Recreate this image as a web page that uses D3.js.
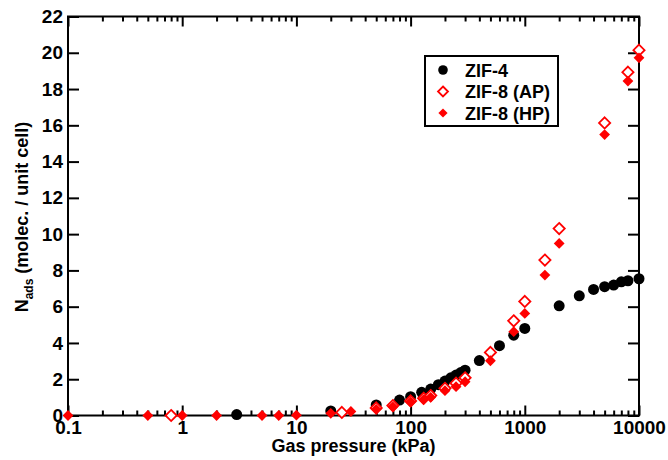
<!DOCTYPE html>
<html><head><meta charset="utf-8">
<script src="https://cdn.jsdelivr.net/npm/d3@7"></script>
<style>
html,body{margin:0;padding:0;background:#fff;}
text{font-family:"Liberation Sans",Arial,sans-serif;font-weight:bold;}
</style></head>
<body>
<svg id="c" width="668" height="460"></svg>
<script>
// ---- data ----
const zif4P = [3, 20, 50, 80, 100, 125, 150, 175, 200, 225, 250, 275, 300, 400, 600, 800, 1000, 2000, 3000, 4000, 5000, 6000, 7000, 8000, 10000];
const zif4N = [0.05, 0.25, 0.58, 0.85, 1.04, 1.28, 1.46, 1.7, 1.9, 2.08, 2.23, 2.37, 2.5, 3.03, 3.85, 4.43, 4.8, 6.05, 6.6, 6.95, 7.1, 7.19, 7.37, 7.43, 7.54];
const apP = [0.8, 25, 50, 70, 100, 130, 150, 200, 250, 300, 500, 800, 1000, 1500, 2000, 5000, 8000, 10000];
const apN = [0.0, 0.17, 0.42, 0.55, 0.8, 0.95, 1.1, 1.5, 1.78, 2.08, 3.48, 5.22, 6.29, 8.57, 10.31, 16.13, 18.93, 20.14];
const hpP = [0.1, 0.5, 1, 2, 5, 7, 10, 20, 30, 50, 70, 100, 130, 150, 200, 250, 300, 500, 800, 1000, 1500, 2000, 5000, 8000, 10000];
const hpN = [0, 0, 0, 0, 0, 0, 0.02, 0.12, 0.22, 0.34, 0.48, 0.74, 0.88, 1.0, 1.37, 1.59, 1.86, 3.02, 4.62, 5.63, 7.74, 9.49, 15.49, 18.44, 19.72];
const xMajor = [0.1, 1, 10, 100, 1000, 10000];
const xTickLabels = ["0.1", "1", "10", "100", "1000", "10000"];
const yTicks = [0, 2, 4, 6, 8, 10, 12, 14, 16, 18, 20, 22];
const seriesNames = ["ZIF-4", "ZIF-8 (AP)", "ZIF-8 (HP)"];

// ---- layout ----
const svg = d3.select("#c");
const L = 68, R = 639, T = 16.5, B = 415.5;
const x = d3.scaleLog().domain([0.1, 10000]).range([L, R]);
const y = d3.scaleLinear().domain([0, 22]).range([B, T]);

const xMinor = [];
for (let e = -1; e < 4; e++) for (let k = 2; k <= 9; k++) xMinor.push(k * Math.pow(10, e));

function styleAxis(g) {
  g.select(".domain").remove();
  g.selectAll("line").attr("stroke", "#000").attr("stroke-width", 2);
  g.selectAll("text").attr("fill", "#000").style("font-size", "19px");
}
const fmt = d => xTickLabels[xMajor.indexOf(d)];

svg.append("g").attr("transform", `translate(0,${B})`)
  .call(d3.axisBottom(x).tickValues(xMajor).tickFormat(fmt).tickSize(-10).tickPadding(5)).call(styleAxis);
svg.append("g").attr("transform", `translate(0,${B})`)
  .call(d3.axisBottom(x).tickValues(xMinor).tickFormat("").tickSize(-5)).call(styleAxis);
svg.append("g").attr("transform", `translate(0,${T})`)
  .call(d3.axisTop(x).tickValues(xMajor).tickFormat("").tickSize(-10)).call(styleAxis);
svg.append("g").attr("transform", `translate(0,${T})`)
  .call(d3.axisTop(x).tickValues(xMinor).tickFormat("").tickSize(-5)).call(styleAxis);
svg.append("g").attr("transform", `translate(${L},0)`)
  .call(d3.axisLeft(y).tickValues(yTicks).tickFormat(d3.format("d")).tickSize(-11).tickPadding(5)).call(styleAxis);
svg.append("g").attr("transform", `translate(${R},0)`)
  .call(d3.axisRight(y).tickValues(yTicks).tickFormat("").tickSize(-11)).call(styleAxis);

svg.append("rect").attr("x", L).attr("y", T).attr("width", R - L).attr("height", B - T)
  .attr("fill", "none").attr("stroke", "#000").attr("stroke-width", 2);

// axis titles
svg.append("text").attr("x", (L + R) / 2).attr("y", 452).attr("text-anchor", "middle")
  .style("font-size", "18px").text("Gas pressure (kPa)");
const yt = svg.append("text").attr("transform", `translate(28,${(T + B) / 2 + 1}) rotate(-90)`)
  .attr("text-anchor", "middle").style("font-size", "18px");
yt.append("tspan").text("N");
yt.append("tspan").attr("dy", 5).style("font-size", "12px").text("ads");
yt.append("tspan").attr("dy", -5).text(" (molec. / unit cell)");

// markers
const dia = s => `M0,${-s}L${s},0L0,${s}L${-s},0Z`;
const zip = (P, N) => P.map((p, i) => ({ p, n: N[i] }));

svg.append("g").selectAll("circle").data(zip(zif4P, zif4N)).join("circle")
  .attr("cx", d => x(d.p)).attr("cy", d => y(d.n)).attr("r", 5.5).attr("fill", "#000");
svg.append("g").selectAll("path").data(zip(apP, apN)).join("path")
  .attr("transform", d => `translate(${x(d.p)},${y(d.n)})`).attr("d", dia(5.6))
  .attr("fill", "#fff").attr("stroke", "#ff0000").attr("stroke-width", 1.8);
svg.append("g").selectAll("path").data(zip(hpP, hpN)).join("path")
  .attr("transform", d => `translate(${x(d.p)},${y(d.n)})`).attr("d", dia(5.4))
  .attr("fill", "#ff0000");

// legend
const lg = svg.append("g");
lg.append("rect").attr("x", 425).attr("y", 56).attr("width", 133).attr("height", 70)
  .attr("fill", "#fff").attr("stroke", "#000").attr("stroke-width", 2);
const rows = [70, 91.5, 113];
lg.append("circle").attr("cx", 443).attr("cy", rows[0]).attr("r", 4.8).attr("fill", "#000");
lg.append("path").attr("transform", `translate(443,${rows[1]})`).attr("d", dia(5))
  .attr("fill", "#fff").attr("stroke", "#ff0000").attr("stroke-width", 1.8);
lg.append("path").attr("transform", `translate(443,${rows[2]})`).attr("d", dia(4.6)).attr("fill", "#ff0000");
seriesNames.forEach((s, i) => {
  lg.append("text").attr("x", 465).attr("y", rows[i] + 6.5).style("font-size", "18px").text(s);
});
</script>
</body></html>
